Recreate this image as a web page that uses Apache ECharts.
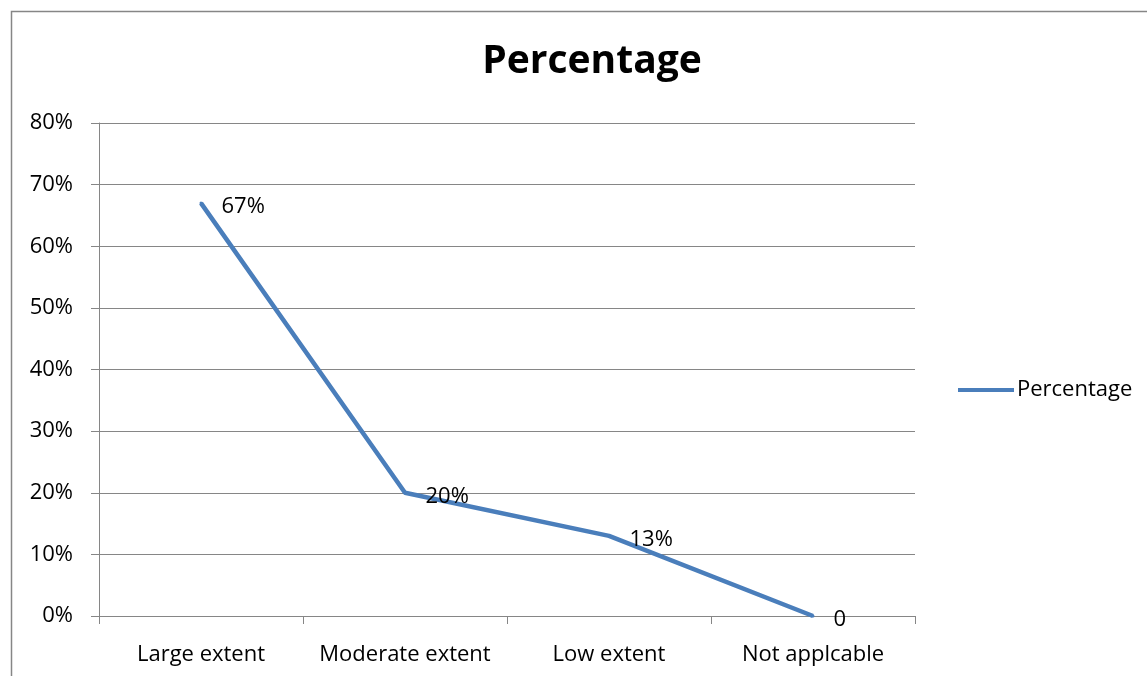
<!DOCTYPE html>
<html>
<head>
<meta charset="utf-8">
<script src="https://cdn.jsdelivr.net/npm/echarts@6/dist/echarts.min.js"></script>
<style>
  html, body { margin: 0; padding: 0; background: #fff; }
  #chart { width: 1147px; height: 676px; }
</style>
</head>
<body>
<div id="chart"></div>
<script>
// Response categories and their share of answers
const categories = ['Large extent', 'Moderate extent', 'Low extent', 'Not applcable'];
const percentages = [0.67, 0.20, 0.13, 0];
const yTicks = { min: 0, max: 0.8, step: 0.1 };
const seriesName = 'Percentage';

const FONT = '"Open Sans", "Noto Sans", sans-serif';
const GRID_GRAY = '#868686';
const LINE_BLUE = '#4A7EBB';

const chart = echarts.init(document.getElementById('chart'), null, { renderer: 'canvas' });

chart.setOption({
  backgroundColor: '#ffffff',
  animation: false,
  title: {
    text: 'Percentage',
    left: 587,
    top: 37,
    textAlign: 'center',
    textStyle: { fontFamily: FONT, fontSize: 39, fontWeight: 'bold', color: '#000' }
  },
  graphic: [{
    type: 'rect',
    shape: { x: 11.5, y: 11.5, width: 1200, height: 700 },
    style: { fill: 'none', stroke: GRID_GRAY, lineWidth: 1.5 },
    silent: true
  }],
  legend: {
    data: [seriesName],
    left: 953,
    top: 374,
    icon: 'rect',
    itemWidth: 56,
    itemHeight: 4,
    itemGap: 0,
    textStyle: { fontFamily: FONT, fontSize: 22, color: '#000', padding: [0, 0, 0, -2] }
  },
  grid: { left: 99, right: 232, top: 123, bottom: 60, containLabel: false },
  xAxis: {
    type: 'category',
    data: categories,
    boundaryGap: true,
    axisLine: { lineStyle: { color: GRID_GRAY, width: 1 } },
    axisTick: { show: true, length: 8, interval: 0, alignWithLabel: false, lineStyle: { color: GRID_GRAY } },
    axisLabel: { interval: 0, margin: 28, fontFamily: FONT, fontSize: 22, color: '#000' },
    splitLine: { show: false }
  },
  yAxis: {
    type: 'value',
    min: yTicks.min,
    max: yTicks.max,
    interval: yTicks.step,
    axisLine: { show: true, lineStyle: { color: GRID_GRAY, width: 1 } },
    axisTick: { show: true, length: 8, lineStyle: { color: GRID_GRAY } },
    axisLabel: {
      margin: 26,
      fontFamily: FONT, fontSize: 22, color: '#000',
      formatter: v => Math.round(v * 100) + '%'
    },
    splitLine: { show: true, lineStyle: { color: GRID_GRAY, width: 1.2 } }
  },
  series: [{
    name: seriesName,
    type: 'line',
    data: percentages,
    symbol: 'circle',
    symbolSize: 3,
    showSymbol: true,
    itemStyle: { color: LINE_BLUE },
    lineStyle: { color: LINE_BLUE, width: 4.5, join: 'round' },
    label: {
      show: true,
      position: 'right',
      distance: 19,
      offset: [0, 4],
      fontFamily: FONT,
      fontSize: 22,
      color: '#000',
      formatter: p => p.value === 0 ? '0' : Math.round(p.value * 100) + '%'
    }
  }]
});
</script>
</body>
</html>
